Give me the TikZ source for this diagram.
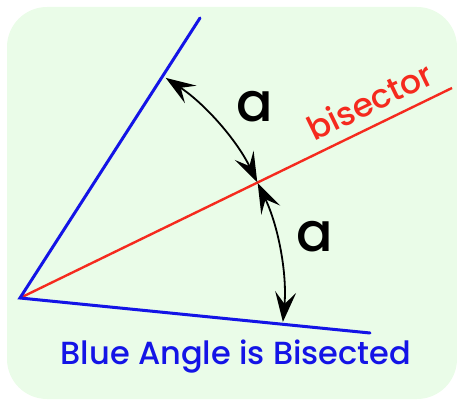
\documentclass[tikz,border=0pt]{standalone}
\usepackage{fontspec}
\usetikzlibrary{arrows.meta}
\newfontfamily\comicfont{Poppins}[UprightFont={* Medium}]
\definecolor{BisBack}{HTML}{EAFCE8}
\definecolor{BisBlue}{HTML}{1414E6}
\definecolor{BisRed}{HTML}{F52A1E}
\tikzset{
  armline/.style={BisBlue,line width=3pt,line cap=round},
  angarrow/.style={black,line width=1.8pt,{Stealth[length=30pt,width=21pt,inset=12pt]}-{Stealth[length=30pt,width=21pt,inset=12pt]}}
}

\begin{document}
\begin{tikzpicture}[x=1pt,y=1pt]
    \useasboundingbox (0,0) rectangle (457,399);
    \fill[BisBack,rounded corners=40pt] (7,0) rectangle (457,392);
    \coordinate (V) at (20,101);
    \coordinate (U) at (200,381);
    \coordinate (L) at (370,66);
    \coordinate (R) at (452,311);
    \draw[BisRed,line width=2.4pt] (V) -- (R);
    \draw[armline] (U) -- (V) -- (L);
    \foreach \a/\b/\nm in {56.5/26/upper, 25.8/-5.2/lower} {
      \coordinate (\nm) at ([shift={(\a:264)}]V);
      \draw[angarrow] (\nm) arc[start angle=\a,end angle=\b,radius=264];
    }
    \node[font=\comicfont\fontsize{54}{54}\selectfont] (aup) at (255,292) {a};
    \node[font=\comicfont\fontsize{54}{54}\selectfont] (alow) at (315,162) {a};
    \node[BisRed,rotate=25.9,font=\comicfont\fontsize{33}{33}\selectfont] (bis) at (370,298) {bisector};
    \node[BisBlue,font=\comicfont\fontsize{32}{32}\selectfont] (cap) at (236,42) {Blue Angle is Bisected};
  \end{tikzpicture}
\end{document}
